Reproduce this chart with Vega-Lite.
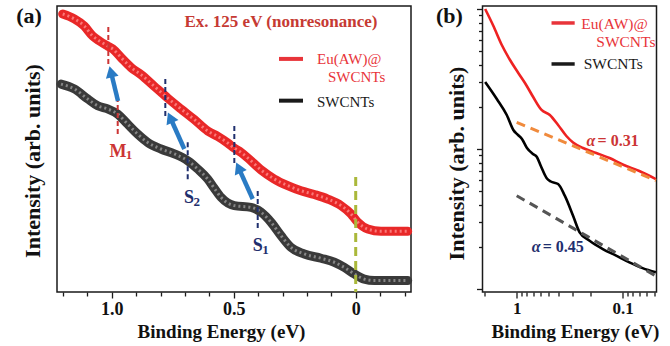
{
  "$schema": "https://vega.github.io/schema/vega-lite/v6.json",
  "background": "white",
  "padding": {"left": 15, "top": -5, "right": 0, "bottom": 0},
  "bounds": "flush",
  "spacing": 71.5,
  "config": {
    "font": "Liberation Serif",
    "view": {"stroke": "#1a1a1a", "strokeWidth": 1.5},
    "axis": {"domain": false, "grid": false, "tickColor": "#1a1a1a", "tickWidth": 1.3, "labelColor": "#111111", "titleColor": "#111111", "labelFont": "Liberation Serif", "titleFont": "Liberation Serif", "labelFontWeight": "bold", "titleFontWeight": "bold", "labelFlush": false, "labelOverlap": false, "labelBound": false}
  },
  "datasets": {
    "a_curves": [
      {"s":"Eu","x":1.2008,"y":97.2},{"s":"Eu","x":1.1533,"y":95.5},{"s":"Eu","x":1.1123,"y":93.0},{"s":"Eu","x":1.0779,"y":89.5},{"s":"Eu","x":1.0508,"y":87.8},{"s":"Eu","x":1.0164,"y":86.0},{"s":"Eu","x":0.9959,"y":85.0},{"s":"Eu","x":0.9619,"y":82.0},{"s":"Eu","x":0.9209,"y":78.5},{"s":"Eu","x":0.8799,"y":76.0},{"s":"Eu","x":0.8266,"y":72.0},{"s":"Eu","x":0.7705,"y":67.8},{"s":"Eu","x":0.7160,"y":64.0},{"s":"Eu","x":0.6615,"y":60.3},{"s":"Eu","x":0.6066,"y":56.3},{"s":"Eu","x":0.5656,"y":54.4},{"s":"Eu","x":0.5246,"y":52.1},{"s":"Eu","x":0.4975,"y":50.3},{"s":"Eu","x":0.4701,"y":48.8},{"s":"Eu","x":0.4426,"y":46.9},{"s":"Eu","x":0.3881,"y":42.7},{"s":"Eu","x":0.3336,"y":39.5},{"s":"Eu","x":0.2787,"y":37.2},{"s":"Eu","x":0.2242,"y":35.4},{"s":"Eu","x":0.1697,"y":34.1},{"s":"Eu","x":0.1148,"y":32.5},{"s":"Eu","x":0.0602,"y":30.2},{"s":"Eu","x":0.0193,"y":27.3},{"s":"Eu","x":-0.0082,"y":24.4},{"s":"Eu","x":-0.0492,"y":22.0},{"s":"Eu","x":-0.1037,"y":21.2},{"s":"Eu","x":-0.157,"y":21.2},{"s":"Eu","x":-0.2131,"y":21.2},
      {"s":"SW","x":1.2078,"y":72.7},{"s":"SW","x":1.1533,"y":71.0},{"s":"SW","x":1.0984,"y":67.5},{"s":"SW","x":1.0574,"y":65.1},{"s":"SW","x":1.0164,"y":64.0},{"s":"SW","x":0.9754,"y":62.2},{"s":"SW","x":0.9344,"y":58.7},{"s":"SW","x":0.8934,"y":55.2},{"s":"SW","x":0.8525,"y":52.3},{"s":"SW","x":0.7980,"y":50.0},{"s":"SW","x":0.7434,"y":48.3},{"s":"SW","x":0.6885,"y":45.9},{"s":"SW","x":0.6475,"y":43.0},{"s":"SW","x":0.6066,"y":39.5},{"s":"SW","x":0.5807,"y":36.4},{"s":"SW","x":0.5520,"y":33.1},{"s":"SW","x":0.4975,"y":30.2},{"s":"SW","x":0.4291,"y":29.6},{"s":"SW","x":0.3881,"y":27.9},{"s":"SW","x":0.3471,"y":24.4},{"s":"SW","x":0.3061,"y":19.7},{"s":"SW","x":0.2652,"y":15.6},{"s":"SW","x":0.2107,"y":13.3},{"s":"SW","x":0.1422,"y":11.8},{"s":"SW","x":0.0877,"y":10.4},{"s":"SW","x":0.0467,"y":8.6},{"s":"SW","x":0.0057,"y":6.3},{"s":"SW","x":-0.0352,"y":4.5},{"s":"SW","x":-0.0762,"y":4.0},{"s":"SW","x":-0.1447,"y":4.0},{"s":"SW","x":-0.2131,"y":4.0}
    ],
    "a_dash": [
      {"k":"M","x":1.0139,"y":92.7,"y2":79.0},{"k":"M","x":0.9754,"y":68.2,"y2":54.5},
      {"k":"S","x":0.7803,"y":74.5,"y2":61.2},{"k":"S","x":0.6885,"y":52.4,"y2":38.5},
      {"k":"S","x":0.4975,"y":58.0,"y2":44.1},{"k":"S","x":0.4016,"y":35.3,"y2":21.3}
    ],
    "a_zero": [{"x":0,"y":40.2,"y2":0}],
    "a_arrows": [
      {"k":"M","x":0.9742,"y":66.8,"x2":1.0033,"y2":77.0},
      {"k":"S","x":0.7025,"y":50.0,"x2":0.7602,"y2":61.0},
      {"k":"S","x":0.4221,"y":32.5,"x2":0.4803,"y2":43.5}
    ],
    "a_heads": [{"k":"M","x":1.0033,"y":77.0},{"k":"S","x":0.7602,"y":61.0},{"k":"S","x":0.4803,"y":43.5}],
    "a_labels": [{"k":"M","t":"M","x":0.9742,"y":48.95},{"k":"S","t":"S","x":0.6832,"y":32.8},{"k":"S","t":"S","x":0.4016,"y":16.1}],
    "a_subs": [{"k":"M","t":"1","x":0.9291,"y":47.8},{"k":"S","t":"2","x":0.6512,"y":31.5},{"k":"S","t":"1","x":0.3697,"y":14.6}],
    "a_note": [{"t":"Ex. 125 eV (nonresonance)","x":0.3061,"y":94.4}],
    "a_leg": [{"k":"Eu","x":0.3143,"x2":0.2160,"y":81.5},{"k":"SW","x":0.3143,"x2":0.2160,"y":66.9}],
    "a_legtext": [{"k":"Eu","t":"Eu(AW)@","x":0.1586,"y":81.5},{"k":"Eu","t":"SWCNTs","x":0.1135,"y":75.3},{"k":"SW","t":"SWCNTs","x":0.1586,"y":66.6}],
    "a_tag": [{"t":"(a)","x":1.339,"y":96.5}],
    "b_curves": [
      {"s":"Eu","x":1.984,"y":10.0},{"s":"Eu","x":1.658,"y":7.56},{"s":"Eu","x":1.382,"y":5.53},{"s":"Eu","x":1.156,"y":4.32},{"s":"Eu","x":0.966,"y":3.49},{"s":"Eu","x":0.806,"y":2.83},{"s":"Eu","x":0.699,"y":2.35},{"s":"Eu","x":0.583,"y":1.899},{"s":"Eu","x":0.487,"y":1.75},{"s":"Eu","x":0.407,"y":1.484},{"s":"Eu","x":0.340,"y":1.238},{"s":"Eu","x":0.294,"y":1.113},{"s":"Eu","x":0.2372,"y":1.017},{"s":"Eu","x":0.1776,"y":0.936},{"s":"Eu","x":0.1332,"y":0.862},{"s":"Eu","x":0.1,"y":0.775},{"s":"Eu","x":0.0697,"y":0.696},{"s":"Eu","x":0.0486,"y":0.610},
      {"s":"SW","x":1.984,"y":3.010},{"s":"SW","x":1.540,"y":2.276},{"s":"SW","x":1.241,"y":1.750},{"s":"SW","x":1.076,"y":1.367},{"s":"SW","x":0.972,"y":1.259},{"s":"SW","x":0.892,"y":1.179},{"s":"SW","x":0.800,"y":1.017},{"s":"SW","x":0.703,"y":0.921},{"s":"SW","x":0.645,"y":0.877},{"s":"SW","x":0.592,"y":0.756},{"s":"SW","x":0.523,"y":0.621},{"s":"SW","x":0.477,"y":0.586},{"s":"SW","x":0.407,"y":0.562},{"s":"SW","x":0.352,"y":0.464},{"s":"SW","x":0.294,"y":0.334},{"s":"SW","x":0.255,"y":0.254},{"s":"SW","x":0.2053,"y":0.221},{"s":"SW","x":0.154,"y":0.193},{"s":"SW","x":0.1153,"y":0.173},{"s":"SW","x":0.0865,"y":0.155},{"s":"SW","x":0.0649,"y":0.141},{"s":"SW","x":0.0486,"y":0.1316}
    ],
    "b_fits": [{"f":"Eu","x":1.0,"y":1.551},{"f":"Eu","x":0.0486,"y":0.595},{"f":"SW","x":1.0,"y":0.464},{"f":"SW","x":0.0486,"y":0.124}],
    "b_alpha": [{"k":"aEu","x":0.219,"y":1.146,"v":"= 0.31"},{"k":"aSW","x":0.723,"y":0.1986,"v":"= 0.45"}],
    "b_leg": [{"k":"Eu","x":0.4694,"x2":0.2838,"y":7.943},{"k":"SW","x":0.4694,"x2":0.2838,"y":4.047}],
    "b_legtext": [{"k":"Eu","t":"Eu(AW)@","x":0.2456,"y":7.814},{"k":"Eu","t":"SWCNTs","x":0.1776,"y":5.782},{"k":"SW","t":"SWCNTs","x":0.2337,"y":4.047}],
    "b_tag": [{"t":"(b)","x":4.315,"y":8.913}]
  },
  "hconcat": [
    {
      "width": 354,
      "height": 286,
      "encoding": {
        "x": {"field": "x", "type": "quantitative",
          "scale": {"domain": [-0.2266, 1.2242], "reverse": true, "nice": false, "zero": false},
          "axis": {"title": "Binding Energy (eV)", "values": [-0.2,-0.1,0,0.1,0.2,0.3,0.4,0.5,0.6,0.7,0.8,0.9,1,1.1,1.2],
            "labelExpr": "abs(datum.value-1)<0.001 ? '1.0' : abs(datum.value-0.5)<0.001 ? '0.5' : abs(datum.value)<0.001 ? '0' : ''",
            "labelFontSize": 18, "labelPadding": 2,
            "tickSize": {"condition": {"test": "abs(datum.value*2-round(datum.value*2))<0.01", "value": 6}, "value": 4},
            "titleFontSize": 19, "titleX": 164, "titleY": 45, "titleBaseline": "alphabetic"}},
        "y": {"field": "y", "type": "quantitative",
          "scale": {"domain": [0, 100], "nice": false, "zero": false},
          "axis": {"title": "Intensity (arb. units)", "labels": false, "ticks": false, "titleFontSize": 22, "titleX": -13, "titleY": 154.5}}
      },
      "layer": [
        {"data": {"name": "a_curves"}, "transform": [{"filter": "datum.s=='Eu'"}],
         "mark": {"type": "line", "color": "#e82828", "strokeWidth": 9, "interpolate": "monotone", "strokeCap": "round"},
         "encoding": {"order": {"field": "x", "sort": "descending"}}},
        {"data": {"name": "a_curves"}, "transform": [{"filter": "datum.s=='Eu'"}],
         "mark": {"type": "line", "color": "#ff8c8c", "strokeWidth": 3, "strokeDash": [2, 3], "opacity": 0.8, "interpolate": "monotone"},
         "encoding": {"order": {"field": "x", "sort": "descending"}}},
        {"data": {"name": "a_curves"}, "transform": [{"filter": "datum.s=='SW'"}],
         "mark": {"type": "line", "color": "#3a3a3a", "strokeWidth": 9, "interpolate": "monotone", "strokeCap": "round"},
         "encoding": {"order": {"field": "x", "sort": "descending"}}},
        {"data": {"name": "a_curves"}, "transform": [{"filter": "datum.s=='SW'"}],
         "mark": {"type": "line", "color": "#9a9a9a", "strokeWidth": 3, "strokeDash": [2, 3], "opacity": 0.8, "interpolate": "monotone"},
         "encoding": {"order": {"field": "x", "sort": "descending"}}},
        {"data": {"name": "a_dash"},
         "mark": {"type": "rule", "strokeWidth": 2, "strokeDash": [5, 3]},
         "encoding": {"y2": {"field": "y2"},
           "color": {"field": "k", "type": "nominal", "scale": {"domain": ["M", "S", "Eu", "SW"], "range": ["#cc3535", "#1f2f6e", "#e8343a", "#1a1a1a"]}, "legend": null}}},
        {"data": {"name": "a_zero"},
         "mark": {"type": "rule", "strokeWidth": 3, "strokeDash": [9, 5], "color": "#aab83a"},
         "encoding": {"y2": {"field": "y2"}}},
        {"data": {"name": "a_arrows"},
         "mark": {"type": "rule", "strokeWidth": 4.5, "color": "#2a7bc4"},
         "encoding": {"x2": {"field": "x2"}, "y2": {"field": "y2"}}},
        {"data": {"name": "a_heads"}, "transform": [{"filter": "datum.k=='M'"}],
         "mark": {"type": "point", "shape": "triangle-up", "filled": true, "size": 170, "angle": 346, "color": "#2a7bc4", "opacity": 1}},
        {"data": {"name": "a_heads"}, "transform": [{"filter": "datum.k=='S'"}],
         "mark": {"type": "point", "shape": "triangle-up", "filled": true, "size": 170, "angle": 336, "color": "#2a7bc4", "opacity": 1}},
        {"data": {"name": "a_labels"},
         "mark": {"type": "text", "fontSize": 18, "fontWeight": "bold", "align": "center", "baseline": "middle"},
         "encoding": {"text": {"field": "t"}, "color": {"field": "k", "type": "nominal", "legend": null}}},
        {"data": {"name": "a_subs"},
         "mark": {"type": "text", "fontSize": 13, "fontWeight": "bold", "align": "center", "baseline": "middle"},
         "encoding": {"text": {"field": "t"}, "color": {"field": "k", "type": "nominal", "legend": null}}},
        {"data": {"name": "a_note"},
         "mark": {"type": "text", "fontSize": 17, "fontWeight": "bold", "align": "center", "baseline": "middle", "color": "#c63a33"},
         "encoding": {"text": {"field": "t"}}},
        {"data": {"name": "a_leg"},
         "mark": {"type": "rule", "strokeWidth": 4},
         "encoding": {"x2": {"field": "x2"}, "color": {"field": "k", "type": "nominal", "legend": null}}},
        {"data": {"name": "a_legtext"},
         "mark": {"type": "text", "fontSize": 15, "align": "left", "baseline": "middle"},
         "encoding": {"text": {"field": "t"}, "color": {"field": "k", "type": "nominal", "legend": null}}},
        {"data": {"name": "a_tag"},
         "mark": {"type": "text", "fontSize": 22, "fontWeight": "bold", "align": "center", "baseline": "middle", "color": "#111111"},
         "encoding": {"text": {"field": "t"}}}
      ]
    },
    {
      "width": 174,
      "height": 286,
      "encoding": {
        "x": {"field": "x", "type": "quantitative",
          "scale": {"type": "log", "domain": [0.048, 2.102], "reverse": true, "nice": false},
          "axis": {"title": "Binding Energy (eV)", "values": [2,1,0.9,0.8,0.7,0.6,0.5,0.4,0.3,0.2,0.1,0.09,0.08,0.07,0.06,0.05],
            "labelExpr": "abs(datum.value-1)<0.001 ? '1' : abs(datum.value-0.1)<0.0001 ? '0.1' : ''",
            "labelFontSize": 17, "labelPadding": 2,
            "tickSize": {"condition": {"test": "abs(log(datum.value)/LN10-round(log(datum.value)/LN10))<0.01", "value": 6}, "value": 4},
            "titleFontSize": 19, "titleX": 92.5, "titleY": 45, "titleBaseline": "alphabetic"}},
        "y": {"field": "y", "type": "quantitative",
          "scale": {"type": "log", "domain": [0.0952, 10.5], "nice": false},
          "axis": {"title": "Intensity (arb. units)", "labels": false, "values": [0.1,0.2,0.3,0.4,0.5,0.6,0.7,0.8,0.9,1,2,3,4,5,6,7,8,9,10],
            "tickSize": {"condition": {"test": "abs(log(datum.value)/LN10-round(log(datum.value)/LN10))<0.01", "value": 6}, "value": 4},
            "titleFontSize": 22, "titleX": -14.5, "titleY": 157}}
      },
      "layer": [
        {"data": {"name": "b_curves"}, "transform": [{"filter": "datum.s=='Eu'"}],
         "mark": {"type": "line", "color": "#ee2222", "strokeWidth": 2.6, "interpolate": "monotone"},
         "encoding": {"order": {"field": "x", "sort": "descending"}}},
        {"data": {"name": "b_curves"}, "transform": [{"filter": "datum.s=='SW'"}],
         "mark": {"type": "line", "color": "#000000", "strokeWidth": 2.6, "interpolate": "monotone"},
         "encoding": {"order": {"field": "x", "sort": "descending"}}},
        {"data": {"name": "b_fits"}, "transform": [{"filter": "datum.f=='Eu'"}],
         "mark": {"type": "line", "color": "#f08a3c", "strokeWidth": 3, "strokeDash": [9, 6]},
         "encoding": {"order": {"field": "x", "sort": "descending"}}},
        {"data": {"name": "b_fits"}, "transform": [{"filter": "datum.f=='SW'"}],
         "mark": {"type": "line", "color": "#555555", "strokeWidth": 3, "strokeDash": [9, 6]},
         "encoding": {"order": {"field": "x", "sort": "descending"}}},
        {"data": {"name": "b_alpha"},
         "mark": {"type": "text", "fontSize": 16, "fontWeight": "bold", "fontStyle": "italic", "align": "left", "baseline": "middle"},
         "encoding": {"text": {"value": "α"},
           "color": {"field": "k", "type": "nominal", "scale": {"domain": ["Eu", "SW", "aEu", "aSW"], "range": ["#ee3b3b", "#111111", "#e5382f", "#1f2a50"]}, "legend": null}}},
        {"data": {"name": "b_alpha"},
         "mark": {"type": "text", "fontSize": 16, "fontWeight": "bold", "align": "left", "baseline": "middle", "dx": 11},
         "encoding": {"text": {"field": "v"}, "color": {"field": "k", "type": "nominal", "legend": null}}},
        {"data": {"name": "b_leg"},
         "mark": {"type": "rule", "strokeWidth": 3.5},
         "encoding": {"x2": {"field": "x2"}, "color": {"field": "k", "type": "nominal", "legend": null}}},
        {"data": {"name": "b_legtext"},
         "mark": {"type": "text", "fontSize": 15.5, "align": "left", "baseline": "middle"},
         "encoding": {"text": {"field": "t"}, "color": {"field": "k", "type": "nominal", "legend": null}}},
        {"data": {"name": "b_tag"},
         "mark": {"type": "text", "fontSize": 22, "fontWeight": "bold", "align": "center", "baseline": "middle", "color": "#111111"},
         "encoding": {"text": {"field": "t"}}}
      ]
    }
  ]
}
